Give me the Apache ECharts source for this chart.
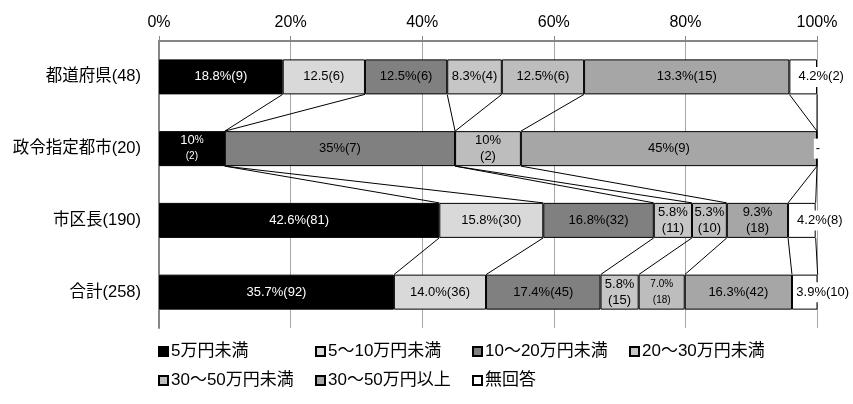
<!DOCTYPE html>
<html>
<head>
<meta charset="utf-8">
<script src="https://cdn.jsdelivr.net/npm/echarts@6/dist/echarts.min.js"></script>
<style>html,body{margin:0;padding:0;background:#fff}#c{width:853px;height:404px}</style>
</head>
<body>
<div id="c"></div>
<script>
// ---- data ----
const categories = ['都道府県(48)', '政令指定都市(20)', '市区長(190)', '合計(258)'];
const seriesNames = ['5万円未満', '5〜10万円未満', '10〜20万円未満', '20〜30万円未満', '30〜50万円未満', '30〜50万円以上', '無回答'];
const xTicks = [0, 20, 40, 60, 80, 100];

const v5man    = [18.8, 10, 42.6, 35.7];
const v5to10   = [12.5, 0, 15.8, 14.0];
const v10to20  = [12.5, 35, 16.8, 17.4];
const v20to30  = [8.3, 0, 5.8, 5.8];
const v30to50  = [12.5, 10, 5.3, 7.0];
const v50plus  = [31.2, 45, 9.3, 16.3];
const vNA      = [4.2, 0, 4.2, 3.9];

const l5man    = ['18.8%(9)', '{m|10}{s|%}\n{s|(2)}', '42.6%(81)', '35.7%(92)'];
const l5to10   = ['12.5(6)', '', '15.8%(30)', '14.0%(36)'];
const l10to20  = ['12.5%(6)', '35%(7)', '16.8%(32)', '17.4%(45)'];
const l20to30  = ['8.3%(4)', '', '5.8%\n(11)', '5.8%\n(15)'];
const l30to50  = ['12.5%(6)', '10%\n(2)', '5.3%\n(10)', '{s|7.0%}\n{s|(18)}'];
const l50plus  = ['13.3%(15)', '45%(9)', '9.3%\n(18)', '16.3%(42)'];
const lNA      = ['4.2%(2)', '-', '4.2%(8)', '3.9%(10)'];

const allValues = [v5man, v5to10, v10to20, v20to30, v30to50, v50plus, vNA];
const allLabels = [l5man, l5to10, l10to20, l20to30, l30to50, l50plus, lNA];
const colors = ['#000000', '#d9d9d9', '#808080', '#c6c6c6', '#bdbdbd', '#a6a6a6', '#ffffff'];
const textColors = ['#ffffff', '#000', '#000', '#000', '#000', '#000', '#000'];

// ---- build ----
const FONT = "'Liberation Sans', 'Noto Sans CJK JP', sans-serif";
const BAR_W = 35;
const chart = echarts.init(document.getElementById('c'), null, {renderer: 'canvas'});

const series = allValues.map((vals, s) => ({
  name: seriesNames[s],
  type: 'bar',
  stack: 'total',
  barWidth: BAR_W,
  z: 3,
  itemStyle: {color: colors[s], borderColor: '#000', borderWidth: 1},
  label: {
    show: true, position: 'inside', color: textColors[s], fontSize: 13, lineHeight: 16,
    fontFamily: FONT,
    rich: {
      s: {fontSize: 10, lineHeight: 16, color: textColors[s], fontFamily: FONT},
      m: {fontSize: 13, lineHeight: 16, color: textColors[s], fontFamily: FONT}
    }
  },
  data: vals.map((v, i) => {
    const txt = allLabels[s][i];
    const item = {value: v};
    if (!txt) { item.label = {show: false}; }
    else {
      item.label = {formatter: txt};
      if (s === 6) {
        item.label.offset = (v === 0) ? [1, 0] : [18, 0];
        item.label.backgroundColor = '#ffffff';
        item.label.padding = [2, 2];
      }
    }
    return item;
  })
}));

// cumulative boundaries for connecting lines
const cum = categories.map((c, i) => {
  let acc = 0;
  return allValues.map(arr => (acc += arr[i]));
});
const linkData = [];
for (let i = 0; i < categories.length - 1; i++) {
  for (let k = 0; k < allValues.length; k++) {
    linkData.push([cum[i][k], i, cum[i + 1][k], i + 1]);
  }
}
series.push({
  type: 'custom',
  name: 'links',
  z: 2,
  silent: true,
  encode: {x: [0, 2], y: [1, 3]},
  data: linkData,
  renderItem: (params, api) => {
    const p1 = api.coord([api.value(0), api.value(1)]);
    const p2 = api.coord([api.value(2), api.value(3)]);
    const h = BAR_W / 2;
    return {
      type: 'line',
      shape: {x1: p1[0], y1: p1[1] + h, x2: p2[0], y2: p2[1] - h},
      style: {stroke: '#000', lineWidth: 1}
    };
  }
});

const legendPos = [[158, 343], [315, 343], [472, 343], [629, 343], [158, 372], [315, 372], [472, 372]];
const legends = seriesNames.map((n, i) => ({
  data: [n], left: legendPos[i][0], top: legendPos[i][1], icon: 'rect',
  itemWidth: 9, itemHeight: 9, itemGap: 0, padding: 0,
  textStyle: {fontSize: 17, color: '#000', fontFamily: FONT, padding: [0, 0, 0, -2]}
}));

chart.setOption({
  animation: false,
  backgroundColor: '#fff',
  grid: {left: 159, right: 36, top: 41, bottom: 76, containLabel: false},
  legend: legends,
  xAxis: {
    type: 'value', position: 'top', min: 0, max: 100, interval: 20,
    axisLine: {show: true, lineStyle: {color: '#868686', width: 2}},
    axisTick: {show: true, length: 5, lineStyle: {color: '#868686'}},
    axisLabel: {formatter: '{value}%', fontSize: 16, color: '#000', margin: 10, fontFamily: FONT},
    splitLine: {show: true, lineStyle: {color: '#a6a6a6', width: 1}}
  },
  yAxis: {
    type: 'category', inverse: true, data: categories,
    axisLine: {show: true, lineStyle: {color: '#868686', width: 2}},
    axisTick: {show: false},
    axisLabel: {fontSize: 16.5, color: '#000', margin: 18, fontFamily: FONT}
  },
  series: series
});
</script>
</body>
</html>
